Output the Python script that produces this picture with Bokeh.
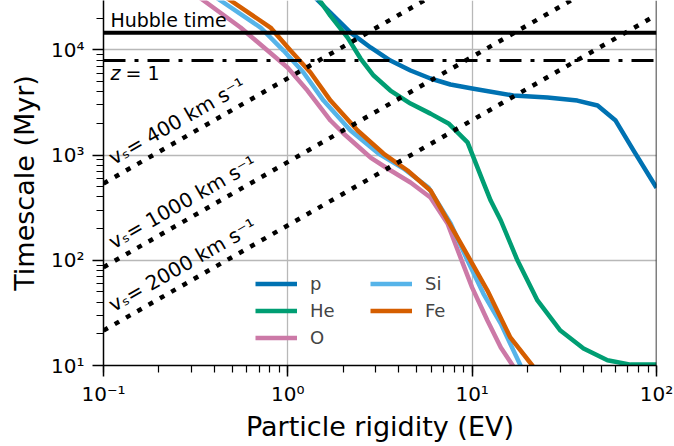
from bokeh.plotting import figure
from bokeh.models import Range1d, Span, Legend, LegendItem, CustomJSTickFormatter
from bokeh.core.properties import value
from bokeh.embed import file_html
from bokeh.resources import INLINE

# ---------------- data ----------------
R_P = [1.26, 1.70, 2.19, 2.81, 3.6, 4.63, 5.94, 7.62, 10.0, 16.7, 25.6, 37.2, 47.9, 60, 75, 100]
T_P = [38000, 22600, 14600, 10550, 7920, 6370, 5350, 4690, 4300, 3690, 3530, 3300, 2960, 2130, 1107, 490]

R_HE = [1.26, 1.70, 2.11, 2.48, 2.92, 3.6, 4.63, 5.94, 7.44, 9.44, 11.5, 12.6, 14.3, 17.6, 22.6,
        30.1, 40.2, 54.2, 72.3, 100]
T_HE = [45000, 21200, 13100, 8280, 5710, 4110, 3090, 2480, 2000, 1320, 550, 370, 239, 100, 41.5,
        21.5, 14.5, 11.2, 10.2, 10.2]

R_O = [0.25, 0.349, 0.554, 0.776, 0.996, 1.278, 1.704, 2.005, 2.81, 3.47, 4.63, 5.94, 7.35, 8.65,
       10.0, 12.1, 14.3, 16.6, 17.5]
T_O = [44900, 29500, 16330, 9860, 6800, 4110, 2132, 1605, 948, 746, 549, 396, 224, 106, 55,
       26.8, 14.8, 10, 8.3]

R_SI = [0.3, 0.431, 0.711, 0.947, 1.216, 1.562, 2.188, 3.105, 4.24, 5.79, 7.64, 9.44, 11.5, 14.3,
        18.3, 19.5]
T_SI = [45300, 29500, 16330, 9860, 6100, 3300, 1713, 1035, 746, 492, 224, 99.5, 48.3, 25, 10, 8.5]

R_FE = [0.35, 0.489, 0.805, 1.034, 1.327, 1.704, 2.39, 3.30, 4.46, 5.94, 7.92, 9.80, 12.1, 16.1,
        21.2, 22.5]
T_FE = [44000, 29500, 16330, 9860, 6100, 3300, 1713, 1035, 714, 461, 192, 99.5, 51.6, 18.5, 10, 8.5]

SPECIES = ["p", "He", "O", "Si", "Fe"]
COLORS = ["#0072B2", "#009E73", "#CC79A7", "#56B4E9", "#D55E00"]

HUBBLE_TIME = 14600   # Myr
Z1_TIME = 7925        # Myr

VS_LABELS = ["400", "1000", "2000"]
VS_R = [0.1, 100]
VS_T = [[538, 538000], [86, 86000], [21.5, 21500]]

# ---------------- figure ----------------
p = figure(width=674, height=446, x_axis_type="log", y_axis_type="log",
           x_range=Range1d(0.1, 100), y_range=Range1d(10, 29500),
           output_backend="svg", toolbar_location=None,
           min_border_left=103, min_border_right=18, min_border_top=0, min_border_bottom=81)
p.outline_line_color = None
p.background_fill_color = "white"
p.border_fill_color = "white"

fmt = CustomJSTickFormatter(code="""
const sup = {"-":"\u207b","0":"\u2070","1":"\u00b9","2":"\u00b2","3":"\u00b3","4":"\u2074",
             "5":"\u2075","6":"\u2076","7":"\u2077","8":"\u2078","9":"\u2079"};
const e = Math.round(Math.log10(tick));
return "10" + String(e).split("").map(c => sup[c]).join("");
""")

for ax in (p.xaxis[0], p.yaxis[0]):
    ax.formatter = fmt
    ax.axis_line_width = 1.5
    ax.major_tick_line_width = 1.5
    ax.minor_tick_line_width = 1.2
    ax.major_tick_out = 11
    ax.major_tick_in = 0
    ax.minor_tick_out = 7
    ax.minor_tick_in = 0
    ax.major_label_text_font = "DejaVu Sans"
    ax.major_label_text_font_size = "20px"
    ax.major_label_text_color = "black"
    ax.axis_label_text_font = "DejaVu Sans"
    ax.axis_label_text_font_size = "27px"
    ax.axis_label_text_font_style = "normal"
    ax.axis_label_text_color = "black"

p.xaxis.axis_label = "Particle rigidity (EV)"
p.yaxis.axis_label = "Timescale (Myr)"
p.xaxis.major_label_standoff = 5
p.xaxis.axis_label_standoff = 2
p.yaxis.major_label_standoff = 8
p.yaxis.axis_label_standoff = 8

for g in (p.xgrid[0], p.ygrid[0]):
    g.grid_line_color = "#b8b8b8"
    g.grid_line_width = 1.3

# right spine
p.add_layout(Span(location=100, dimension="height", line_color="black", line_width=1.5))

# ---------------- curves ----------------
curve_data = [(R_P, T_P), (R_HE, T_HE), (R_O, T_O), (R_SI, T_SI), (R_FE, T_FE)]
renderers = []
for (rx, ty), name, col in zip(curve_data, SPECIES, COLORS):
    r = p.line(rx, ty, line_color=col, line_width=4.5, line_join="round")
    renderers.append(r)

# ---------------- reference lines ----------------
p.add_layout(Span(location=HUBBLE_TIME, dimension="width", line_color="black", line_width=4))
p.add_layout(Span(location=Z1_TIME, dimension="width", line_color="black", line_width=3,
                  line_dash="22 9 4 9"))

for tv in VS_T:
    p.line(VS_R, tv, line_color="black", line_width=4.5, line_dash="5 8")

# ---------------- texts ----------------
FONT = value("DejaVu Sans")
FS = value("19px")
p.text(x=[0.109], y=[19460], text=["Hubble time"], text_font=FONT, text_font_size=FS,
       text_align="left", text_baseline="alphabetic", text_color="black")
p.text(x=[0.109], y=[6100], text=["z"], text_font=FONT, text_font_size=FS,
       text_font_style="italic", text_align="left", text_baseline="alphabetic", text_color="black")
p.text(x=[0.1316], y=[6100], text=["= 1"], text_font=FONT, text_font_size=FS,
       text_align="left", text_baseline="alphabetic", text_color="black")

ANG = 0.518
vs_pos_y = [915, 145, 36.6]
for lab, yy in zip(VS_LABELS, vs_pos_y):
    p.text(x=[0.109], y=[yy], text=["v\u209b= " + lab + " km s\u207b\u00b9"], angle=ANG,
           text_font=FONT, text_font_size=value("20px"), text_align="left",
           text_baseline="alphabetic", text_color="black")

# ---------------- legends ----------------
common = dict(border_line_alpha=0, background_fill_alpha=0, padding=0, margin=0,
              glyph_width=42, glyph_height=21, label_height=21, label_standoff=13, spacing=6,
              label_text_font="DejaVu Sans", label_text_font_size="18px")
leg1 = Legend(items=[LegendItem(label=SPECIES[i], renderers=[renderers[i]]) for i in range(3)],
              location=(152, 17), **common)
leg2 = Legend(items=[LegendItem(label=SPECIES[i], renderers=[renderers[i]]) for i in range(3, 5)],
              location=(267, 44), **common)
p.add_layout(leg1, "center")
p.add_layout(leg2, "center")

open("out.html", "w").write(file_html(p, INLINE))
